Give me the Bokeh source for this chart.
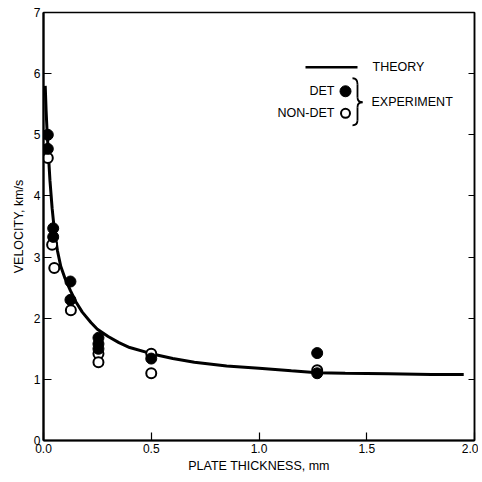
from bokeh.plotting import figure
from bokeh.models import Range1d, LinearAxis, FixedTicker, Label, CustomJSTickFormatter
from bokeh.embed import file_html
from bokeh.resources import INLINE

# Theory curve
theory_x = [0.008, 0.012, 0.016, 0.02, 0.025, 0.03, 0.04, 0.05, 0.065, 0.08, 0.1, 0.125, 0.15,
            0.18, 0.22, 0.25, 0.3, 0.35, 0.4, 0.5, 0.6, 0.7, 0.85, 1.0, 1.15, 1.27, 1.4, 1.6, 1.8, 1.95]
theory_y = [5.8, 5.4, 5.1, 4.85, 4.55, 4.25, 3.8, 3.45, 3.1, 2.85, 2.65, 2.45, 2.27,
            2.1, 1.93, 1.82, 1.7, 1.6, 1.52, 1.42, 1.34, 1.28, 1.22, 1.18, 1.14, 1.11, 1.1, 1.09, 1.08, 1.08]

# Experiment: detonation (filled)
det_x = [0.02, 0.02, 0.045, 0.045, 0.125, 0.125, 0.255, 0.255, 0.255, 0.5, 1.27, 1.27]
det_y = [5.0, 4.77, 3.47, 3.33, 2.6, 2.3, 1.68, 1.58, 1.5, 1.34, 1.43, 1.1]

# Experiment: non-detonation (open)
non_x = [0.02, 0.04, 0.05, 0.127, 0.255, 0.255, 0.5, 0.5, 1.27]
non_y = [4.62, 3.2, 2.82, 2.13, 1.42, 1.28, 1.42, 1.1, 1.15]

x_ticks = [0.0, 0.5, 1.0, 1.5, 2.0]
y_ticks = [0, 1, 2, 3, 4, 5, 6, 7]

FONT = "Liberation Sans"

p = figure(width=478, height=476, output_backend="svg", toolbar_location=None,
           x_range=Range1d(0, 2.0), y_range=Range1d(0, 7),
           min_border_left=43, min_border_right=4, min_border_top=12, min_border_bottom=36)
p.grid.visible = False
p.outline_line_color = "black"
p.outline_line_width = 1.5
p.background_fill_color = "white"

for ax in (p.xaxis[0], p.yaxis[0]):
    ax.axis_line_width = 2.2
    ax.axis_line_color = "black"
    ax.major_tick_in = 8
    ax.major_tick_out = 0
    ax.major_tick_line_width = 1.2
    ax.minor_tick_line_color = None
    ax.major_label_text_font = FONT
    ax.major_label_text_font_size = "12px"
    ax.major_label_text_color = "black"
    ax.axis_label_text_font = FONT
    ax.axis_label_text_font_size = "12.5px"
    ax.axis_label_text_font_style = "normal"
    ax.axis_label_text_color = "black"

p.xaxis[0].ticker = FixedTicker(ticks=x_ticks)
p.xaxis[0].formatter = CustomJSTickFormatter(code="return tick.toFixed(1);")
p.xaxis[0].major_label_standoff = 3
p.xaxis[0].axis_label = "PLATE THICKNESS, mm"
p.xaxis[0].axis_label_standoff = 3

p.yaxis[0].ticker = FixedTicker(ticks=y_ticks)
p.yaxis[0].major_label_standoff = 3
p.yaxis[0].axis_label = "VELOCITY, km/s"
p.yaxis[0].axis_label_standoff = 5

right = LinearAxis(ticker=FixedTicker(ticks=y_ticks),
                   formatter=CustomJSTickFormatter(code="return '';"),
                   major_tick_in=6, major_tick_out=0, minor_tick_line_color=None,
                   axis_line_width=1.5, major_label_standoff=0)
p.add_layout(right, "right")

p.line(theory_x, theory_y, line_color="black", line_width=3)
p.scatter(non_x, non_y, size=10, marker="circle", fill_color="white", line_color="black", line_width=2)
p.scatter(det_x, det_y, size=11, marker="circle", fill_color="black", line_color="black")

# legend (page px -> data)
def dx(px):
    return (px - 43) / 215.5

def dy(py):
    return (440 - py) / 61.1

p.line([dx(305), dx(357)], [dy(67), dy(67)], line_color="black", line_width=2.5)
p.scatter([dx(345)], [dy(91)], size=11, fill_color="black", line_color="black")
p.scatter([dx(345)], [dy(113)], size=9, fill_color="white", line_color="black", line_width=2)

lab = dict(text_font=FONT, text_font_size="12.5px", text_color="black")
p.add_layout(Label(x=dx(372), y=dy(67), text="THEORY", text_baseline="middle", **lab))
p.add_layout(Label(x=dx(334), y=dy(91), text="DET", text_align="right", text_baseline="middle", **lab))
p.add_layout(Label(x=dx(334), y=dy(113), text="NON-DET", text_align="right", text_baseline="middle", **lab))
p.add_layout(Label(x=dx(371), y=dy(102), text="EXPERIMENT", text_baseline="middle", **lab))

# brace
segs = [((352, 78), (357, 78), (357, 84)),
        ((357, 97), (357, 102), (362, 102)),
        ((362, 102), (357, 102), (357, 107)),
        ((357, 120), (357, 125), (352, 125))]
p.quadratic(x0=[dx(a[0]) for a, b, c in segs], y0=[dy(a[1]) for a, b, c in segs],
            cx=[dx(b[0]) for a, b, c in segs], cy=[dy(b[1]) for a, b, c in segs],
            x1=[dx(c[0]) for a, b, c in segs], y1=[dy(c[1]) for a, b, c in segs],
            line_color="black", line_width=1.8)
p.segment(x0=[dx(357), dx(357)], y0=[dy(84), dy(107)], x1=[dx(357), dx(357)], y1=[dy(97), dy(120)],
          line_color="black", line_width=1.8)

open("out.html", "w").write(file_html(p, INLINE))
